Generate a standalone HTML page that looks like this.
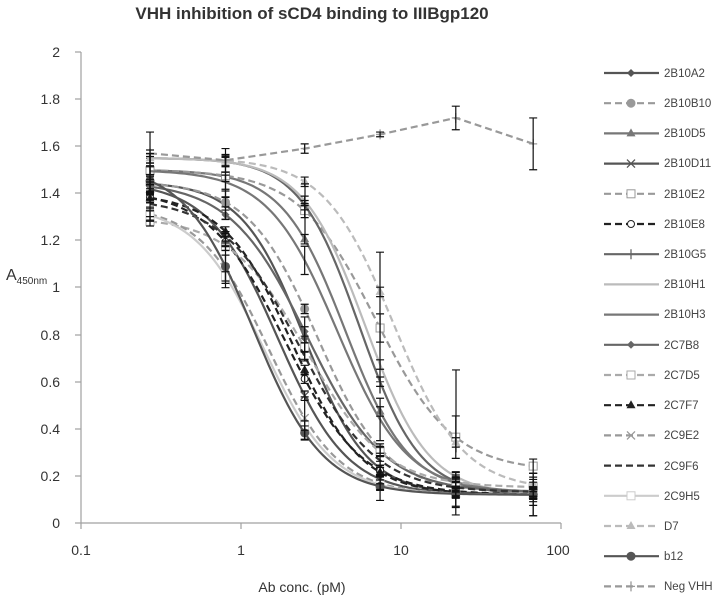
<!DOCTYPE html>
<html><head><meta charset="utf-8"><style>
html,body{margin:0;padding:0;background:#fff;}
svg{display:block;font-family:"Liberation Sans",sans-serif;}
</style></head><body>
<svg id="s" width="720" height="606" viewBox="0 0 720 606" xmlns="http://www.w3.org/2000/svg">
<rect width="720" height="606" fill="#fff"/>
<text x="312" y="19" text-anchor="middle" font-size="17" font-weight="bold" fill="#333">VHH inhibition of sCD4 binding to IIIBgp120</text>
<g stroke="#a0a0a0" stroke-width="1.2" fill="none">
<line x1="81" y1="52" x2="81" y2="523"/>
<line x1="81" y1="523" x2="561" y2="523"/>
<line x1="75" y1="52" x2="81" y2="52"/><line x1="75" y1="99" x2="81" y2="99"/><line x1="75" y1="146" x2="81" y2="146"/><line x1="75" y1="193" x2="81" y2="193"/><line x1="75" y1="240" x2="81" y2="240"/><line x1="75" y1="287" x2="81" y2="287"/><line x1="75" y1="335" x2="81" y2="335"/><line x1="75" y1="382" x2="81" y2="382"/><line x1="75" y1="429" x2="81" y2="429"/><line x1="75" y1="476" x2="81" y2="476"/><line x1="75" y1="523" x2="81" y2="523"/>
<line x1="81" y1="523" x2="81" y2="529"/><line x1="241" y1="523" x2="241" y2="529"/><line x1="401" y1="523" x2="401" y2="529"/><line x1="561" y1="523" x2="561" y2="529"/>
</g>
<g font-size="14" fill="#333" text-anchor="end">
<text x="60" y="57">2</text><text x="60" y="104">1.8</text><text x="60" y="151">1.6</text><text x="60" y="198">1.4</text><text x="60" y="245">1.2</text><text x="60" y="292">1</text><text x="60" y="340">0.8</text><text x="60" y="387">0.6</text><text x="60" y="434">0.4</text><text x="60" y="481">0.2</text><text x="60" y="528">0</text>
</g>
<g font-size="14" fill="#333" text-anchor="middle">
<text x="81" y="555">0.1</text><text x="241" y="555">1</text><text x="401" y="555">10</text><text x="558" y="555">100</text>
<text x="302" y="592">Ab conc.  (pM)</text>
</g>
<text x="6" y="280" font-size="16" fill="#333">A<tspan font-size="10" dy="4">450nm</tspan></text>
<g id="plot"></g>
<g id="leg" font-size="11.5" fill="#444">
<text x="664" y="77">2B10A2</text><text x="664" y="107">2B10B10</text><text x="664" y="137">2B10D5</text><text x="664" y="167">2B10D11</text><text x="664" y="198">2B10E2</text><text x="664" y="228">2B10E8</text><text x="664" y="258">2B10G5</text><text x="664" y="288">2B10H1</text><text x="664" y="318">2B10H3</text><text x="664" y="349">2C7B8</text><text x="664" y="379">2C7D5</text><text x="664" y="409">2C7F7</text><text x="664" y="439">2C9E2</text><text x="664" y="470">2C9F6</text><text x="664" y="500">2C9H5</text><text x="664" y="530">D7</text><text x="664" y="560">b12</text><text x="664" y="590">Neg VHH</text>
</g>
</svg>
<script>
var S=[
["#555",0,"d",1.45,0.12,2.5,2.2],
["#999",1,"c",1.45,0.13,3.0,2.0],
["#777",0,"t",1.5,0.13,4.5,2.2],
["#555",0,"x",1.45,0.12,1.7,2.0],
["#999",1,"s",1.5,0.22,7.0,1.8],
["#222",1,"o",1.42,0.12,1.9,1.8],
["#666",0,"+",1.55,0.12,5.5,2.3],
["#bbb",0,"",1.55,0.12,6.0,2.2],
["#777",0,"",1.5,0.13,4.0,2.0],
["#666",0,"d",1.45,0.13,2.6,1.8],
["#aaa",1,"s",1.3,0.15,2.6,1.8],
["#222",1,"t",1.4,0.12,2.1,2.0],
["#999",1,"x",1.35,0.12,1.5,2.0],
["#333",1,"",1.38,0.13,2.3,1.8],
["#ccc",0,"s",1.35,0.12,1.4,2.0],
["#bbb",1,"t",1.55,0.14,9.0,2.0],
["#555",0,"c",1.52,0.12,1.2,2.0],
["#999",1,"+",0,0,0,0]];
var neg=[1.57,1.54,1.59,1.65,1.72,1.61];
var C=[0.27,0.8,2.5,7.4,22,67];
function X(c){return 81+160*Math.log10(c/0.1);}
function Y(v){return 523-v*235.5;}
function f(s,c){return s[4]+(s[3]-s[4])/(1+Math.pow(c/s[5],s[6]));}
var out="";
function mk(m,x,y,col){
 if(m=="d")return '<path d="M'+x+' '+(y-4)+'l4 4l-4 4l-4 -4z" fill="'+col+'"/>';
 if(m=="c")return '<circle cx="'+x+'" cy="'+y+'" r="4.5" fill="'+col+'"/>';
 if(m=="t")return '<path d="M'+x+' '+(y-5)+'l4.5 8h-9z" fill="'+col+'"/>';
 if(m=="x")return '<path d="M'+(x-4)+' '+(y-4)+'l8 8M'+(x+4)+' '+(y-4)+'l-8 8" stroke="'+col+'" stroke-width="1.3"/>';
 if(m=="s")return '<rect x="'+(x-4)+'" y="'+(y-4)+'" width="8" height="8" fill="#fff" stroke="'+col+'"/>';
 if(m=="o")return '<circle cx="'+x+'" cy="'+y+'" r="3.5" fill="#fff" stroke="'+col+'"/>';
 if(m=="+")return '<path d="M'+x+' '+(y-5)+'v10M'+(x-4)+' '+y+'h8" stroke="'+col+'" stroke-width="1.3"/>';
 return "";
}
var er="";
var negE=[0.09,0.05,0.02,0.01,0.05,0.11];
S.forEach(function(s,i){
 var pts=[];
 if(i==17){for(var k=0;k<6;k++)pts.push([X(C[k]),Y(neg[k])]);}
 else for(var l=Math.log10(0.27);l<=Math.log10(67)+1e-9;l+=0.02){var c=Math.pow(10,l);pts.push([X(c),Y(f(s,c))]);}
 var d="M"+pts.map(function(p){return p[0].toFixed(1)+" "+p[1].toFixed(1)}).join("L");
 out+='<path d="'+d+'" fill="none" stroke="'+s[0]+'" stroke-width="2.2"'+(s[1]?' stroke-dasharray="7 4"':'')+'/>';
 for(var k=0;k<6;k++){var v=i==17?neg[k]:f(s,C[k]);var x=X(C[k]),y=Y(v);out+=mk(s[2],x,y,s[0]);
  var e=i==17?negE[k]:((i%4==0)?(0.03+0.03*((i+k)%3)):0.02);er+='<path d="M'+x+' '+Y(v+e)+'V'+Y(v-e)+'M'+(x-4)+' '+Y(v+e)+'h8M'+(x-4)+' '+Y(v-e)+'h8" stroke="#111" stroke-width="1.2"/>';}
 var ly=73+30.2*i;
 out+='<path d="M604 '+ly+'H659" stroke="'+s[0]+'" stroke-width="2.2"'+(s[1]?' stroke-dasharray="7 4"':'')+'/>'+mk(s[2],631,ly,s[0]);
});
er+='<path d="M305 '+Y(1.44)+'V'+Y(1.2)+'M301 '+Y(1.44)+'h8M380 '+Y(1.15)+'V'+Y(0.55)+'M376 '+Y(1.15)+'h8M456 '+Y(0.65)+'V'+Y(0.3)+'M452 '+Y(0.65)+'h8" stroke="#111" stroke-width="1.2"/>';
document.getElementById("plot").innerHTML=out+er;
</script>
</body></html>
